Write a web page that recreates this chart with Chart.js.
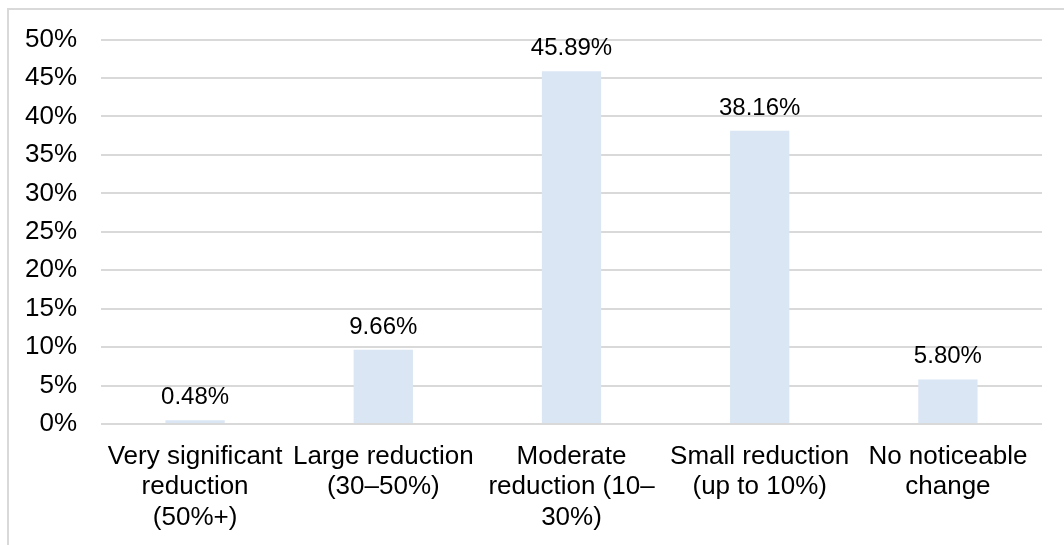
<!DOCTYPE html>
<html>
<head>
<meta charset="utf-8">
<script src="https://cdn.jsdelivr.net/npm/chart.js@4/dist/chart.umd.min.js"></script>
<style>
  html, body { margin: 0; padding: 0; background: #fff; }
  #wrap { width: 1064px; height: 545px; position: relative; }
</style>
</head>
<body>
<div id="wrap"><canvas id="c" width="1064" height="545"></canvas></div>
<script>
// Categories (multi-line labels) and share of responses, in percent
const categories = [
  ["Very significant", "reduction", "(50%+)"],
  ["Large reduction", "(30\u201350%)"],
  ["Moderate", "reduction (10\u2013", "30%)"],
  ["Small reduction", "(up to 10%)"],
  ["No noticeable", "change"]
];
const shares = [0.48, 9.66, 45.89, 38.16, 5.80];
const yTicks = [0, 5, 10, 15, 20, 25, 30, 35, 40, 45, 50];

const FONT = "'Liberation Sans', Arial, sans-serif";
const GRID = "#D9D9D9";
const BAR = "#DAE6F4";

// Light frame around the whole chart
const framePlugin = {
  id: "frame",
  beforeDraw(chart) {
    const ctx = chart.ctx;
    ctx.save();
    ctx.strokeStyle = GRID;
    ctx.lineWidth = 2;
    ctx.strokeRect(8, 9, 1200, 800);
    ctx.restore();
  }
};

// Value labels above each bar
const valueLabels = {
  id: "valueLabels",
  afterDatasetsDraw(chart) {
    const ctx = chart.ctx;
    const meta = chart.getDatasetMeta(0);
    ctx.save();
    ctx.font = "24px " + FONT;
    ctx.fillStyle = "#000";
    ctx.textAlign = "center";
    ctx.textBaseline = "alphabetic";
    meta.data.forEach((bar, i) => {
      const v = chart.data.datasets[0].data[i];
      ctx.fillText(v.toFixed(2) + "%", bar.x, bar.y - 16);
    });
    ctx.restore();
  }
};

new Chart(document.getElementById("c"), {
  type: "bar",
  data: {
    labels: categories,
    datasets: [{
      data: shares,
      backgroundColor: BAR,
      borderWidth: 0,
      categoryPercentage: 0.315,
      barPercentage: 1
    }]
  },
  options: {
    responsive: false,
    animation: false,
    devicePixelRatio: 1,
    layout: { padding: { left: 0, right: 22, top: 35, bottom: 0 } },
    plugins: { legend: { display: false }, tooltip: { enabled: false } },
    scales: {
      y: {
        min: 0,
        max: 50,
        afterBuildTicks(scale) { scale.ticks = yTicks.map(v => ({ value: v })); },
        afterFit(scale) { scale.width = 101; },
        border: { display: false },
        grid: { color: GRID, lineWidth: 2, drawTicks: false },
        ticks: {
          padding: 24,
          color: "#000",
          font: { family: FONT, size: 26 },
          callback: v => v + "%"
        }
      },
      x: {
        afterFit(scale) { scale.height = 121; },
        border: { display: false },
        grid: { display: false },
        ticks: {
          autoSkip: false,
          maxRotation: 0,
          padding: 10,
          color: "#000",
          font: { family: FONT, size: 26, lineHeight: 1.16 }
        }
      }
    }
  },
  plugins: [framePlugin, valueLabels]
});
</script>
</body>
</html>
